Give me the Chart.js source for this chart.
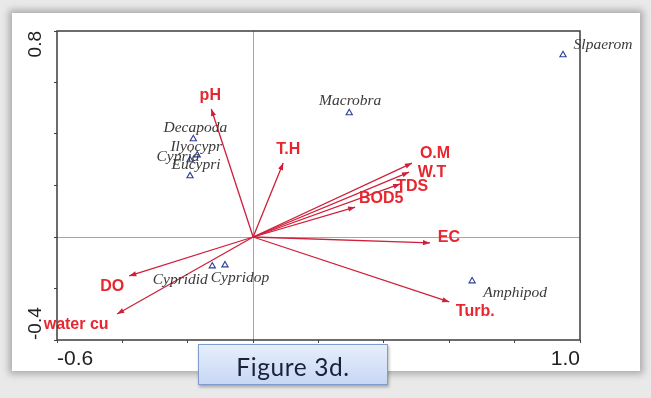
<!DOCTYPE html>
<html>
<head>
<meta charset="utf-8">
<script src="https://cdn.jsdelivr.net/npm/chart.js@4.4.1/dist/chart.umd.min.js"></script>
<style>
  html, body { margin: 0; padding: 0; }
  body { width: 651px; height: 398px; background: #e9e9e9; position: relative; overflow: hidden; }
  #panel { position: absolute; left: 12px; top: 13px; width: 628px; height: 358px; background: #fff;
           box-shadow: 0 0 7px 3px rgba(0,0,0,0.28); }
  #cv { position: absolute; left: 0; top: 0; }
  #caption { position: absolute; left: 198px; top: 344px; width: 190px; height: 41px; box-sizing: border-box;
             border: 1px solid #7f9bd0; background: linear-gradient(#e6eefc, #c7d7f4);
             box-shadow: 1px 2px 3px rgba(0,0,0,0.3);
             font-family: Lato, "Open Sans", sans-serif; font-size: 24.5px; color: #1b2238;
             display: flex; align-items: center; justify-content: center; letter-spacing: 0.6px; padding-top: 3px; }
</style>
</head>
<body>
<div id="panel"></div>
<canvas id="cv" width="651" height="398"></canvas>
<div id="caption">Figure 3d.</div>
<script>
// Environmental variables (biplot arrows)
const envNames = ['pH', 'T.H', 'O.M', 'W.T', 'TDS', 'BOD5', 'EC', 'Turb.', 'DO', 'water cu'];
const envX = [-0.128, 0.092, 0.486, 0.477, 0.450, 0.312, 0.541, 0.600, -0.379, -0.416];
const envY = [0.497, 0.287, 0.287, 0.252, 0.206, 0.116, -0.023, -0.252, -0.151, -0.299];

// Species scores
const spNames = ['Slpaerom', 'Macrobra', 'Decapoda', 'Ilyocypr', 'Cypria', 'Eucypri', 'Cypridid', 'Cypridop', 'Amphipod'];
const spX = [0.948, 0.294, -0.183, -0.171, -0.193, -0.193, -0.125, -0.086, 0.670];
const spY = [0.707, 0.482, 0.381, 0.318, 0.299, 0.237, -0.113, -0.109, -0.171];

// Axis ticks that carry a label
const xTickValues = [-0.6, 1.0];
const xTickLabels = ['-0.6', '1.0'];
const yTickValues = [-0.4, 0.8];
const yTickLabels = ['-0.4', '0.8'];

// Label placement (pixel offsets from the mark)
const envLabelOffset = [[-1,-13],[5,-14],[23,-10],[23,0],[12,3],[26,-9],[19,-5],[26,10],[-17,11],[-41,11]];
const spLabelOffset = [[40,-10],[1,-12],[2,-11],[-1,-8],[-12,-3],[6,-11],[-32,14],[15,13],[43,12]];

const RED_LINE = '#cf1f3a';
const RED_TEXT = '#e8262f';
const BLUE = '#2b3f94';

const arrowDatasets = envNames.map((n, i) => ({
  type: 'line',
  label: n,
  data: [{x: 0, y: 0}, {x: envX[i], y: envY[i]}],
  borderColor: RED_LINE,
  borderWidth: 1.3,
  pointRadius: 0,
  fill: false,
  clip: false
}));

const speciesDataset = {
  type: 'scatter',
  label: 'species',
  data: spX.map((x, i) => ({x: x, y: spY[i]})),
  pointStyle: 'triangle',
  pointRadius: 3.6,
  borderColor: BLUE,
  backgroundColor: 'rgba(0,0,0,0)',
  borderWidth: 1.1,
  clip: false
};

function matchIndex(list, v) {
  for (let i = 0; i < list.length; i++) if (Math.abs(list[i] - v) < 1e-6) return i;
  return -1;
}

const biplotDecor = {
  id: 'biplotDecor',
  afterDatasetsDraw(chart) {
    const ctx = chart.ctx;
    const xs = chart.scales.x, ys = chart.scales.y;
    const ox = xs.getPixelForValue(0), oy = ys.getPixelForValue(0);
    ctx.save();
    // arrow heads and labels
    envNames.forEach((n, i) => {
      const px = xs.getPixelForValue(envX[i]), py = ys.getPixelForValue(envY[i]);
      const a = Math.atan2(py - oy, px - ox);
      const L = 7, W = 2.6;
      ctx.fillStyle = RED_LINE;
      ctx.beginPath();
      ctx.moveTo(px, py);
      ctx.lineTo(px - L * Math.cos(a) + W * Math.sin(a), py - L * Math.sin(a) - W * Math.cos(a));
      ctx.lineTo(px - L * Math.cos(a) - W * Math.sin(a), py - L * Math.sin(a) + W * Math.cos(a));
      ctx.closePath();
      ctx.fill();
      ctx.font = 'bold 16px "Liberation Sans", Arial, sans-serif';
      ctx.fillStyle = RED_TEXT;
      ctx.textAlign = 'center';
      ctx.textBaseline = 'middle';
      ctx.fillText(n, px + envLabelOffset[i][0], py + envLabelOffset[i][1]);
    });
    // species names
    ctx.font = 'italic 15.5px "Liberation Serif", "DejaVu Serif", serif';
    ctx.fillStyle = '#3a3a3a';
    ctx.textAlign = 'center';
    ctx.textBaseline = 'middle';
    spNames.forEach((n, i) => {
      const px = xs.getPixelForValue(spX[i]), py = ys.getPixelForValue(spY[i]);
      ctx.fillText(n, px + spLabelOffset[i][0], py + spLabelOffset[i][1]);
    });
    ctx.restore();
  },
  afterDraw(chart) {
    const ctx = chart.ctx, a = chart.chartArea, ys = chart.scales.y;
    ctx.save();
    ctx.strokeStyle = '#3c3c3c';
    ctx.lineWidth = 1.5;
    ctx.strokeRect(a.left, a.top, a.right - a.left, a.bottom - a.top);
    // rotated y tick labels, kept inside the axis span
    ctx.font = '19px "Liberation Sans", Arial, sans-serif';
    ctx.fillStyle = '#222';
    ctx.textBaseline = 'middle';
    yTickValues.forEach((v, i) => {
      const py = ys.getPixelForValue(v);
      ctx.save();
      ctx.translate(a.left - 21, py);
      ctx.rotate(-Math.PI / 2);
      ctx.textAlign = (py < (a.top + a.bottom) / 2) ? 'right' : 'left';
      ctx.fillText(yTickLabels[i], 0, 0);
      ctx.restore();
    });
    ctx.restore();
  }
};

new Chart(document.getElementById('cv'), {
  data: { datasets: [...arrowDatasets, speciesDataset] },
  options: {
    responsive: false,
    animation: false,
    devicePixelRatio: 1,
    layout: { padding: { left: 0, top: 31, right: 71, bottom: 0 } },
    plugins: { legend: { display: false }, tooltip: { enabled: false } },
    scales: {
      x: {
        type: 'linear', min: -0.6, max: 1.0,
        afterFit(s) { s.height = 58; },
        ticks: {
          stepSize: 0.2, align: 'inner', padding: 4,
          font: { size: 21, family: '"Liberation Sans", Arial, sans-serif' }, color: '#222',
          callback(v) { const k = matchIndex(xTickValues, v); return k < 0 ? '' : xTickLabels[k]; }
        },
        grid: {
          color: c => (c.tick && Math.abs(c.tick.value) < 1e-9) ? '#a6a6a6' : 'rgba(0,0,0,0)',
          tickColor: '#444', tickLength: 3, lineWidth: 1
        },
        border: { display: false }
      },
      y: {
        type: 'linear', min: -0.4, max: 0.8,
        afterFit(s) { s.width = 57; },
        ticks: { stepSize: 0.2, display: false },
        grid: {
          color: c => (c.tick && Math.abs(c.tick.value) < 1e-9) ? '#a6a6a6' : 'rgba(0,0,0,0)',
          tickColor: '#444', tickLength: 3, lineWidth: 1
        },
        border: { display: false }
      }
    }
  },
  plugins: [biplotDecor]
});
</script>
</body>
</html>
